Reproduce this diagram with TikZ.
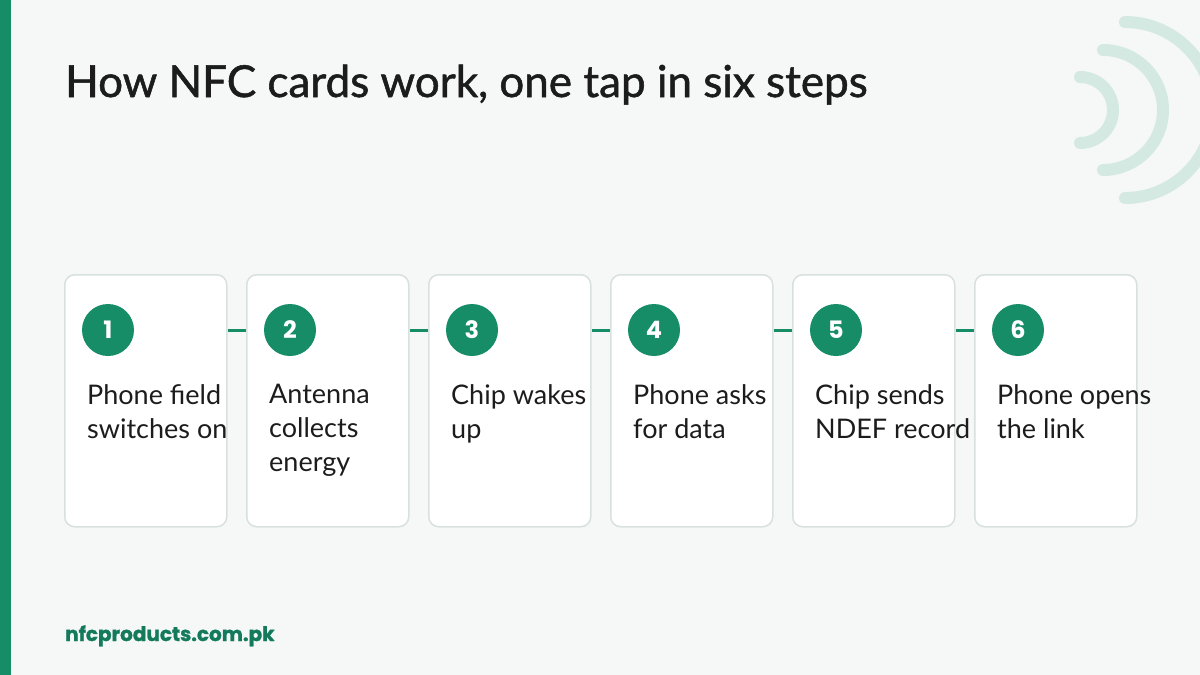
\documentclass[tikz,border=0pt]{standalone}
\usepackage{fontspec}
\setmainfont{Lato}
\newfontfamily\popfont{Poppins}
\newfontfamily\titlefont[FakeBold=1.2]{Lato}
\newfontfamily\footfont[FakeBold=1.2]{Poppins}
\definecolor{bg}{HTML}{F5F8F7}
\definecolor{brand}{HTML}{168C67}
\definecolor{brandtext}{HTML}{137A5B}
\definecolor{wave}{HTML}{D5E9E3}
\definecolor{cardline}{HTML}{D8E1DE}
\definecolor{ink}{HTML}{1C1C1C}
\begin{document}
\begin{tikzpicture}[x=1pt,y=-1pt,
  card/.style={draw=cardline,line width=1.5pt,fill=white,rounded corners=10pt,minimum width=162pt,minimum height=252pt,inner sep=0pt,anchor=north west},
  badge/.style={circle,fill=brand,minimum size=52pt,inner sep=0pt,text=white,font=\popfont\bfseries\fontsize{24}{24}\selectfont},
  steptext/.style={anchor=north west,align=left,inner sep=0pt,text=ink,font=\fontsize{27}{34}\selectfont},
  link/.style={draw=brand,line width=3pt},
  wavearc/.style={draw=wave,line width=12pt,line cap=round}]
\useasboundingbox (0,0) rectangle (1200,675);
\fill[bg] (0,0) rectangle (1200,675);
\fill[brand] (0,0) rectangle (11,675);
% waves
\draw[wavearc] (1080,77) arc[start angle=-90,end angle=90,radius=33];
\draw[wavearc] (1103,50) arc[start angle=-90,end angle=90,radius=60];
\draw[wavearc] (1125,22) arc[start angle=-90,end angle=90,radius=88];
% title
\node[anchor=base west,inner sep=0pt,text=ink,font=\titlefont\fontsize{44}{44}\selectfont] (title) at (65,97) {How NFC cards work, one tap in six steps};
% cards
\foreach \i/\t in {1/{Phone field\\switches on},2/{Antenna\\collects\\energy},3/{Chip wakes\\up},4/{Phone asks\\for data},5/{Chip sends\\NDEF record},6/{Phone opens\\the link}}{
  \node[card] (c\i) at ({64+182*(\i-1)},274) {};
  \node[badge] (b\i) at ({108+182*(\i-1)},330) {\i};
  \node[steptext] (t\i) at ({87+182*(\i-1)},384) {\t};
}
\foreach \i [evaluate=\i as \j using int(\i+1)] in {1,...,5}{
  \draw[link] (c\i.east |- b\i) -- (c\j.west |- b\j);
}
% footer
\node[anchor=base west,inner sep=0pt,text=brandtext,font=\footfont\bfseries\fontsize{20}{20}\selectfont] (footer) at (65,641) {nfcproducts.com.pk};
\end{tikzpicture}
\end{document}
